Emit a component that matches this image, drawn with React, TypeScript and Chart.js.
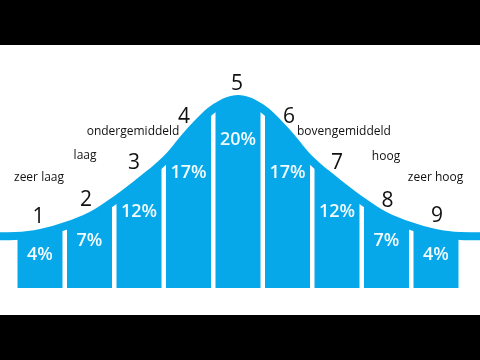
import { useEffect, useRef } from 'react';
import { Chart, registerables } from 'chart.js';

Chart.register(...registerables);

// ---- data ----
const stanines = [1, 2, 3, 4, 5, 6, 7, 8, 9];
const percentages = [4, 7, 12, 17, 20, 17, 12, 7, 4];
// height of each column (relative, bell top = 100)
const columnHeights = [34.2, 47.7, 68.4, 95.3, 100, 95.3, 68.4, 47.7, 34.2];
// bell curve outline (relative height)
const curveX = [0, 0.5, 1, 1.5, 2, 2.5, 3, 3.5, 4, 4.5, 5, 5.5, 6, 6.5, 7, 7.5, 8, 8.5, 9, 9.5, 10];
const curveY = [28.8, 29.0, 30.6, 34.2, 39.4, 47.7, 57.5, 68.4, 83.4, 95.3, 100, 95.3, 83.4, 68.4, 57.5, 47.7, 39.4, 34.2, 30.6, 29.0, 28.8];
const levelNames = ['zeer laag', 'laag', 'ondergemiddeld', 'bovengemiddeld', 'hoog', 'zeer hoog'];

// ---- layout (label anchors, in axis units) ----
const LAYOUT = {
  numberX: [0.97, 1.93, 2.9, 3.91, 4.98, 6.03, 7.0, 8.02, 9.02],
  numberBaseline: [33.7, 42.5, 61.7, 85.5, 102.6, 85.5, 61.7, 42.0, 34.2],
  pctBaseline: [14.5, 21.8, 36.8, 57.0, 74.1, 57.0, 36.8, 21.8, 14.5],
  nameX: [0.98, 1.91, 2.88, 7.14, 7.99, 8.99],
  nameBaseline: [55.4, 66.8, 79.5, 79.5, 66.5, 55.6],
};

const BLUE = '#06a8ea';

const labelPlugin = {
  id: 'stanineLabels',
  afterDatasetsDraw(chart: any) {
    const { ctx } = chart;
    const x = chart.scales.x;
    const y = chart.scales.y;
    ctx.save();
    ctx.textAlign = 'center';
    ctx.textBaseline = 'alphabetic';

    ctx.fillStyle = '#111';
    ctx.font = '21px "Open Sans"';
    stanines.forEach((s, i) => {
      ctx.fillText(String(s), x.getPixelForValue(LAYOUT.numberX[i]), y.getPixelForValue(LAYOUT.numberBaseline[i]));
    });

    ctx.font = '12px "Open Sans"';
    levelNames.forEach((n, i) => {
      ctx.fillText(n, x.getPixelForValue(LAYOUT.nameX[i]), y.getPixelForValue(LAYOUT.nameBaseline[i]));
    });

    ctx.fillStyle = '#f2fbff';
    ctx.font = '600 18px "Open Sans"';
    percentages.forEach((p, i) => {
      ctx.fillText(p + '%', x.getPixelForValue(stanines[i]), y.getPixelForValue(LAYOUT.pctBaseline[i]));
    });
    ctx.restore();
  },
};

export default function App() {
  const ref = useRef<HTMLCanvasElement>(null);

  useEffect(() => {
    document.body.style.margin = '0';
    const curve = curveX.map((cx, i) => ({ x: cx, y: curveY[i] }));
    const chart = new Chart(ref.current as HTMLCanvasElement, {
      type: 'bar',
      data: {
        datasets: [
          {
            type: 'line',
            label: 'mask',
            data: curve,
            borderWidth: 0,
            borderColor: 'rgba(0,0,0,0)',
            backgroundColor: '#ffffff',
            fill: 'end',
            pointRadius: 0,
            cubicInterpolationMode: 'monotone',
            order: 0,
          } as any,
          {
            type: 'line',
            label: 'curve',
            data: curve,
            borderWidth: 16,
            borderColor: BLUE,
            fill: false,
            pointRadius: 0,
            cubicInterpolationMode: 'monotone',
            order: 1,
          } as any,
          {
            type: 'bar',
            label: 'stanine',
            data: stanines.map((s, i) => ({ x: s, y: columnHeights[i] })),
            backgroundColor: BLUE,
            borderWidth: 0,
            categoryPercentage: 1,
            barPercentage: 0.909,
            order: 2,
          } as any,
        ],
      },
      options: {
        responsive: false,
        devicePixelRatio: 1,
        animation: false,
        layout: { padding: 0 },
        plugins: { legend: { display: false }, tooltip: { enabled: false } },
        scales: {
          x: { type: 'linear', min: 0.1919, max: 9.889, offset: false, display: false },
          y: { type: 'linear', min: -14, max: 125.9, display: false },
        },
      } as any,
      plugins: [labelPlugin],
    });
    return () => chart.destroy();
  }, []);

  return (
    <div style={{ position: 'fixed', left: 0, top: 0, width: 480, height: 360, background: '#000' }}>
      <canvas
        ref={ref}
        width={480}
        height={270}
        style={{ position: 'absolute', left: 0, top: 45, width: 480, height: 270, background: '#fff' }}
      />
    </div>
  );
}
